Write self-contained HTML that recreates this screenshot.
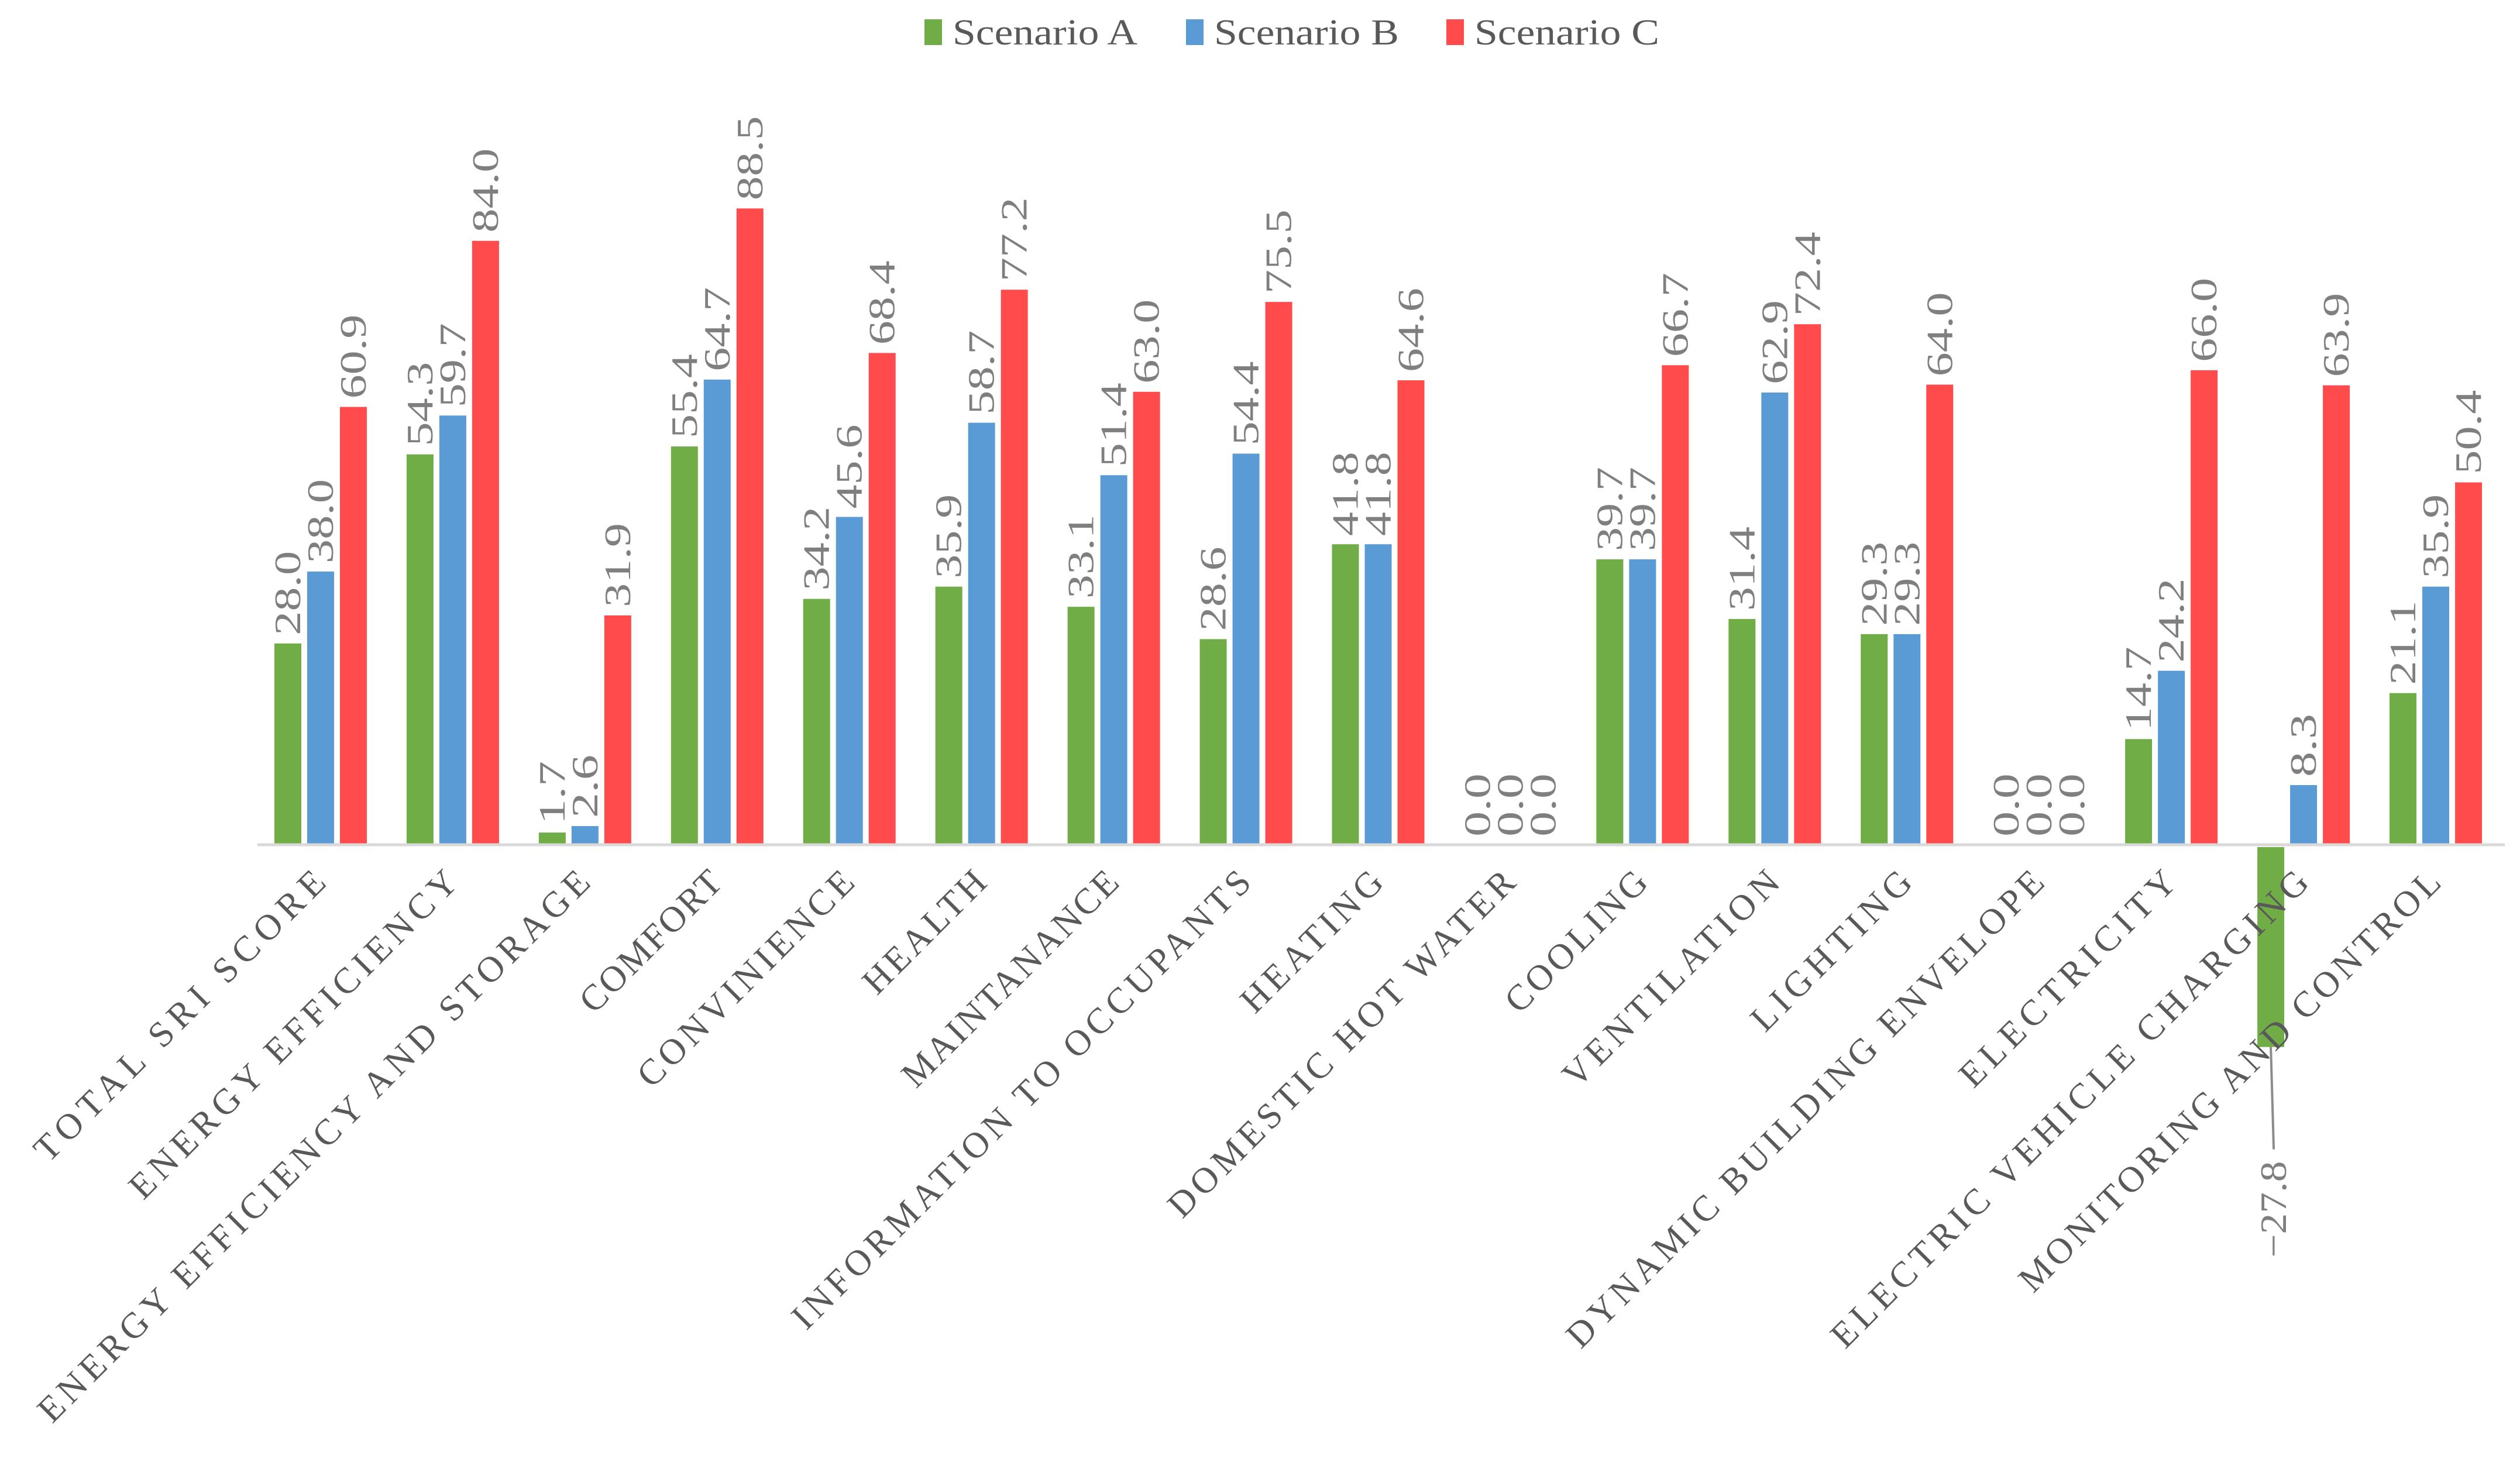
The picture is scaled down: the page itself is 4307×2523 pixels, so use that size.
<!DOCTYPE html>
<html><head><meta charset="utf-8"><style>
html,body{margin:0;padding:0;background:#fff;}
svg{display:block;}
text{font-family:"Liberation Serif",serif;}
</style></head><body>
<svg id="chart" width="4307" height="2523" viewBox="0 0 4307 2523" xmlns="http://www.w3.org/2000/svg">
<g id="legend"></g>
<g id="bars"></g>
<line id="axis" x1="440" x2="4281" y1="1444" y2="1444" stroke="#D9D9D9" stroke-width="5"/>
<g id="labels"></g>
<g id="cats"></g>
</svg>
<script>
const categories = ["TOTAL SRI SCORE","ENERGY EFFICIENCY","ENERGY EFFICIENCY AND STORAGE","COMFORT","CONVINIENCE","HEALTH","MAINTANANCE","INFORMATION TO OCCUPANTS","HEATING","DOMESTIC HOT WATER","COOLING","VENTILATION","LIGHTING","DYNAMIC BUILDING ENVELOPE","ELECTRICITY","ELECTRIC VEHICLE CHARGING","MONITORING AND CONTROL"];
const seriesNames = ["Scenario A","Scenario B","Scenario C"];
const scenarioA = [28.0,54.3,1.7,55.4,34.2,35.9,33.1,28.6,41.8,0.0,39.7,31.4,29.3,0.0,14.7,-27.8,21.1];
const scenarioB = [38.0,59.7,2.6,64.7,45.6,58.7,51.4,54.4,41.8,0.0,39.7,62.9,29.3,0.0,24.2,8.3,35.9];
const scenarioC = [60.9,84.0,31.9,88.5,68.4,77.2,63.0,75.5,64.6,0.0,66.7,72.4,64.0,0.0,66.0,63.9,50.4];

const NS = "http://www.w3.org/2000/svg";
const colors = ["#70AD47","#5B9BD5","#FF4B4B"];
const series = [scenarioA, scenarioB, scenarioC];
const plotL = 440, plotR = 4281, y0 = 1444, pxPerUnit = 12.29;
const pitch = (plotR - plotL) / categories.length;
function xCenter(i){ return plotL + pitch*(i+0.5) - 5; }
function yScale(v){ return y0 - v*pxPerUnit; }
function mk(tag, attrs, parent){ const e=document.createElementNS(NS,tag); for(const k in attrs) e.setAttribute(k,attrs[k]); parent.appendChild(e); return e; }

const bars = document.getElementById('bars');
const labels = document.getElementById('labels');
const cats = document.getElementById('cats');
const legend = document.getElementById('legend');
const bw = 46, step = 56;

categories.forEach((c,i)=>{
  const gc = xCenter(i);
  series.forEach((s,j)=>{
    const v = s[i];
    const cx = gc + (j-1)*step;
    const top = Math.min(yScale(v), y0);
    const h = Math.abs(yScale(v) - y0);
    const r = mk('rect',{x:cx-bw/2,y:v<0?top+4:top,width:bw,height:h,fill:colors[j]},bars);
    
    
    const txt = (v<0?'\u2212':'') + Math.abs(v).toFixed(1);
    let t;
    if(v >= 0){
      const ly = yScale(v) - 14;
      t = mk('text',{x:0,y:0,transform:`translate(${cx+21},${ly}) rotate(-90)`,'font-size':64,fill:'#7F7F7F','text-anchor':'start',textLength:txt.length*36,lengthAdjust:'spacingAndGlyphs'},labels);
    } else {
      const by = yScale(v) + 4;
      const ln = mk('line',{x1:cx,y1:by,x2:cx+5,y2:by+175,stroke:'#8C8C8C','stroke-width':4},labels);
      
      
      t = mk('text',{x:0,y:0,transform:`translate(${cx+26},${by+195}) rotate(-90)`,'font-size':64,fill:'#7F7F7F','text-anchor':'end',textLength:txt.length*33,lengthAdjust:'spacingAndGlyphs'},labels);
    }
    t.textContent = txt;
    
    
  });
  const ct = mk('text',{x:0,y:0,transform:`translate(${gc+12},${y0+68}) rotate(-45)`,'font-size':62,fill:'#595959','text-anchor':'end',textLength:c.length*45,lengthAdjust:'spacing'},cats);
  ct.textContent = c;
  
  
});

const legX = [1580, 2027, 2472];
seriesNames.forEach((n,j)=>{
  const g = mk('g',{},legend);
  
  
  mk('rect',{x:legX[j],y:33,width:30,height:44,fill:colors[j]},g);
  const t = mk('text',{x:legX[j]+48,y:76,'font-size':62,fill:'#595959',textLength:316,lengthAdjust:'spacingAndGlyphs'},g);
  t.textContent = n;
  
  
});
</script>
</body></html>
